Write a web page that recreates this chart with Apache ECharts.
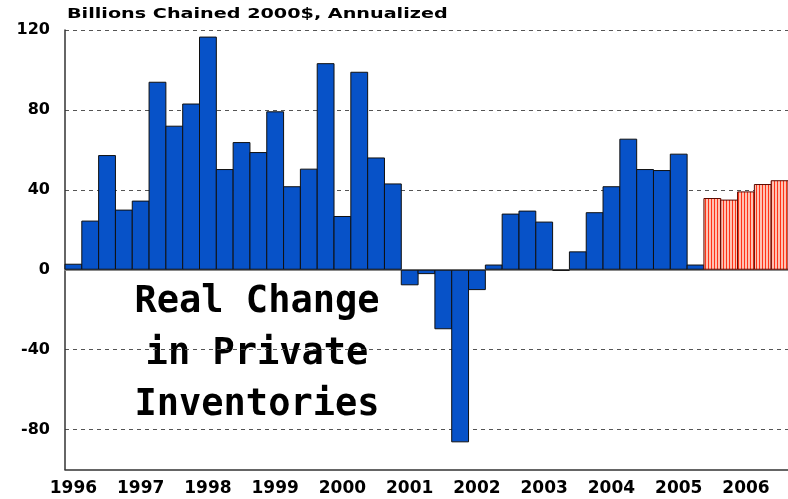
<!DOCTYPE html>
<html>
<head>
<meta charset="utf-8">
<script src="https://cdn.jsdelivr.net/npm/echarts@6/dist/echarts.min.js"></script>
<style>
  html, body { margin: 0; padding: 0; background: #fff; }
  #chart { width: 788px; height: 499px; }
</style>
</head>
<body>
<div id="chart"></div>
<script>
// Quarterly change in private inventories, billions of chained 2000 dollars (annualized)
const years = ['1996', '1997', '1998', '1999', '2000', '2001', '2002', '2003', '2004', '2005', '2006'];
const quarterNames = ['Q1', 'Q2', 'Q3', 'Q4'];

// Reported quarters: 1996 Q1 .. 2005 Q2
const actual = [
  3.0, 24.6, 57.4, 30.1,
  34.6, 94.1, 72.1, 83.2,
  116.7, 50.4, 63.9, 58.9,
  79.3, 41.8, 50.6, 103.4,
  26.9, 99.1, 56.2, 43.2,
  -7.8, -2.2, -29.8, -86.4,
  -10.2, 2.6, 28.1, 29.6,
  24.1, -0.5, 9.2, 28.8,
  41.8, 65.6, 50.4, 49.9,
  58.1, 2.6
];
// Projected quarters: 2005 Q3 .. 2006 Q3
const forecast = [35.9, 35.1, 39.2, 42.9, 44.8];

const yTickLabels = [-80, -40, 0, 40, 80, 120];

// Category labels, one per quarter shown
const quarters = [];
years.forEach(y => quarterNames.forEach(q => quarters.push(y + ' ' + q)));
quarters.length = actual.length + forecast.length;

// Striped fill for projected bars
function stripePattern() {
  const c = document.createElement('canvas');
  c.width = 3; c.height = 4;
  const g = c.getContext('2d');
  g.fillStyle = '#ffc2b2'; g.fillRect(0, 0, 3, 4);
  g.fillStyle = '#ff3318'; g.fillRect(0, 0, 1, 4);
  return c;
}

const projectedStyle = {
  color: { image: stripePattern(), repeat: 'repeat' },
  borderColor: '#5a0a00',
  borderWidth: 1
};

// One bar per quarter; projected quarters carry their own style
const barData = actual.map(v => v).concat(
  forecast.map(v => ({ value: v, itemStyle: projectedStyle }))
);

const chart = echarts.init(document.getElementById('chart'), null, { renderer: 'canvas' });

const axisFont = { fontFamily: 'DejaVu Sans', fontWeight: 'bold', fontSize: 16, color: '#000' };
const bigFont = 'bold 37px "DejaVu Sans Mono"';

chart.setOption({
  animation: false,
  backgroundColor: '#ffffff',
  grid: { left: 65, right: 0, top: 30, bottom: 29.5, containLabel: false },
  xAxis: [
    {
      type: 'category',
      data: quarters,
      position: 'bottom',
      boundaryGap: true,
      axisLine: { onZero: false, lineStyle: { color: '#333', width: 1.5 } },
      axisTick: {
        inside: true, length: 9, alignWithLabel: true,
        interval: (i) => i % 4 === 0,
        lineStyle: { color: '#333', width: 1.5 }
      },
      axisLabel: {
        ...axisFont, fontSize: 17, margin: 11,
        interval: (i) => i % 4 === 0,
        formatter: (v) => v.slice(0, 4)
      },
      splitLine: { show: false }
    },
    {
      type: 'category',
      data: quarters,
      position: 'top',
      axisLine: { lineStyle: { color: '#8a8a8a', width: 2 } },
      axisTick: { show: false },
      axisLabel: { show: false },
      splitLine: { show: false }
    }
  ],
  yAxis: {
    type: 'value',
    min: -100,
    max: 120,
    interval: 20,
    axisLine: { show: true, lineStyle: { color: '#333', width: 1.5 } },
    axisTick: { show: false },
    axisLabel: {
      ...axisFont, margin: 15,
      formatter: (v) => (yTickLabels.indexOf(v) >= 0 ? String(v) : '')
    },
    splitLine: {
      show: true,
      lineStyle: { color: ['rgba(0,0,0,0)', '#555'], type: [4, 4], width: 1 }
    }
  },
  series: [
    {
      name: 'Inventory change',
      type: 'bar',
      data: barData,
      barWidth: '106%',
      itemStyle: { color: '#0752c8', borderColor: '#101010', borderWidth: 1 }
    }
  ],
  graphic: [
    {
      type: 'text', x: 67, y: 14.5, scaleX: 1.37,
      style: {
        text: 'Billions Chained 2000$, Annualized',
        font: 'bold 14px "DejaVu Sans"', fill: '#000',
        textAlign: 'left', textVerticalAlign: 'middle'
      }
    },
    {
      type: 'text', x: 257, y: 302,
      style: { text: 'Real Change', font: bigFont, fill: '#000', textAlign: 'center', textVerticalAlign: 'middle' }
    },
    {
      type: 'text', x: 257, y: 354,
      style: { text: 'in Private', font: bigFont, fill: '#000', textAlign: 'center', textVerticalAlign: 'middle' }
    },
    {
      type: 'text', x: 257, y: 405,
      style: { text: 'Inventories', font: bigFont, fill: '#000', textAlign: 'center', textVerticalAlign: 'middle' }
    }
  ]
});
</script>
</body>
</html>
